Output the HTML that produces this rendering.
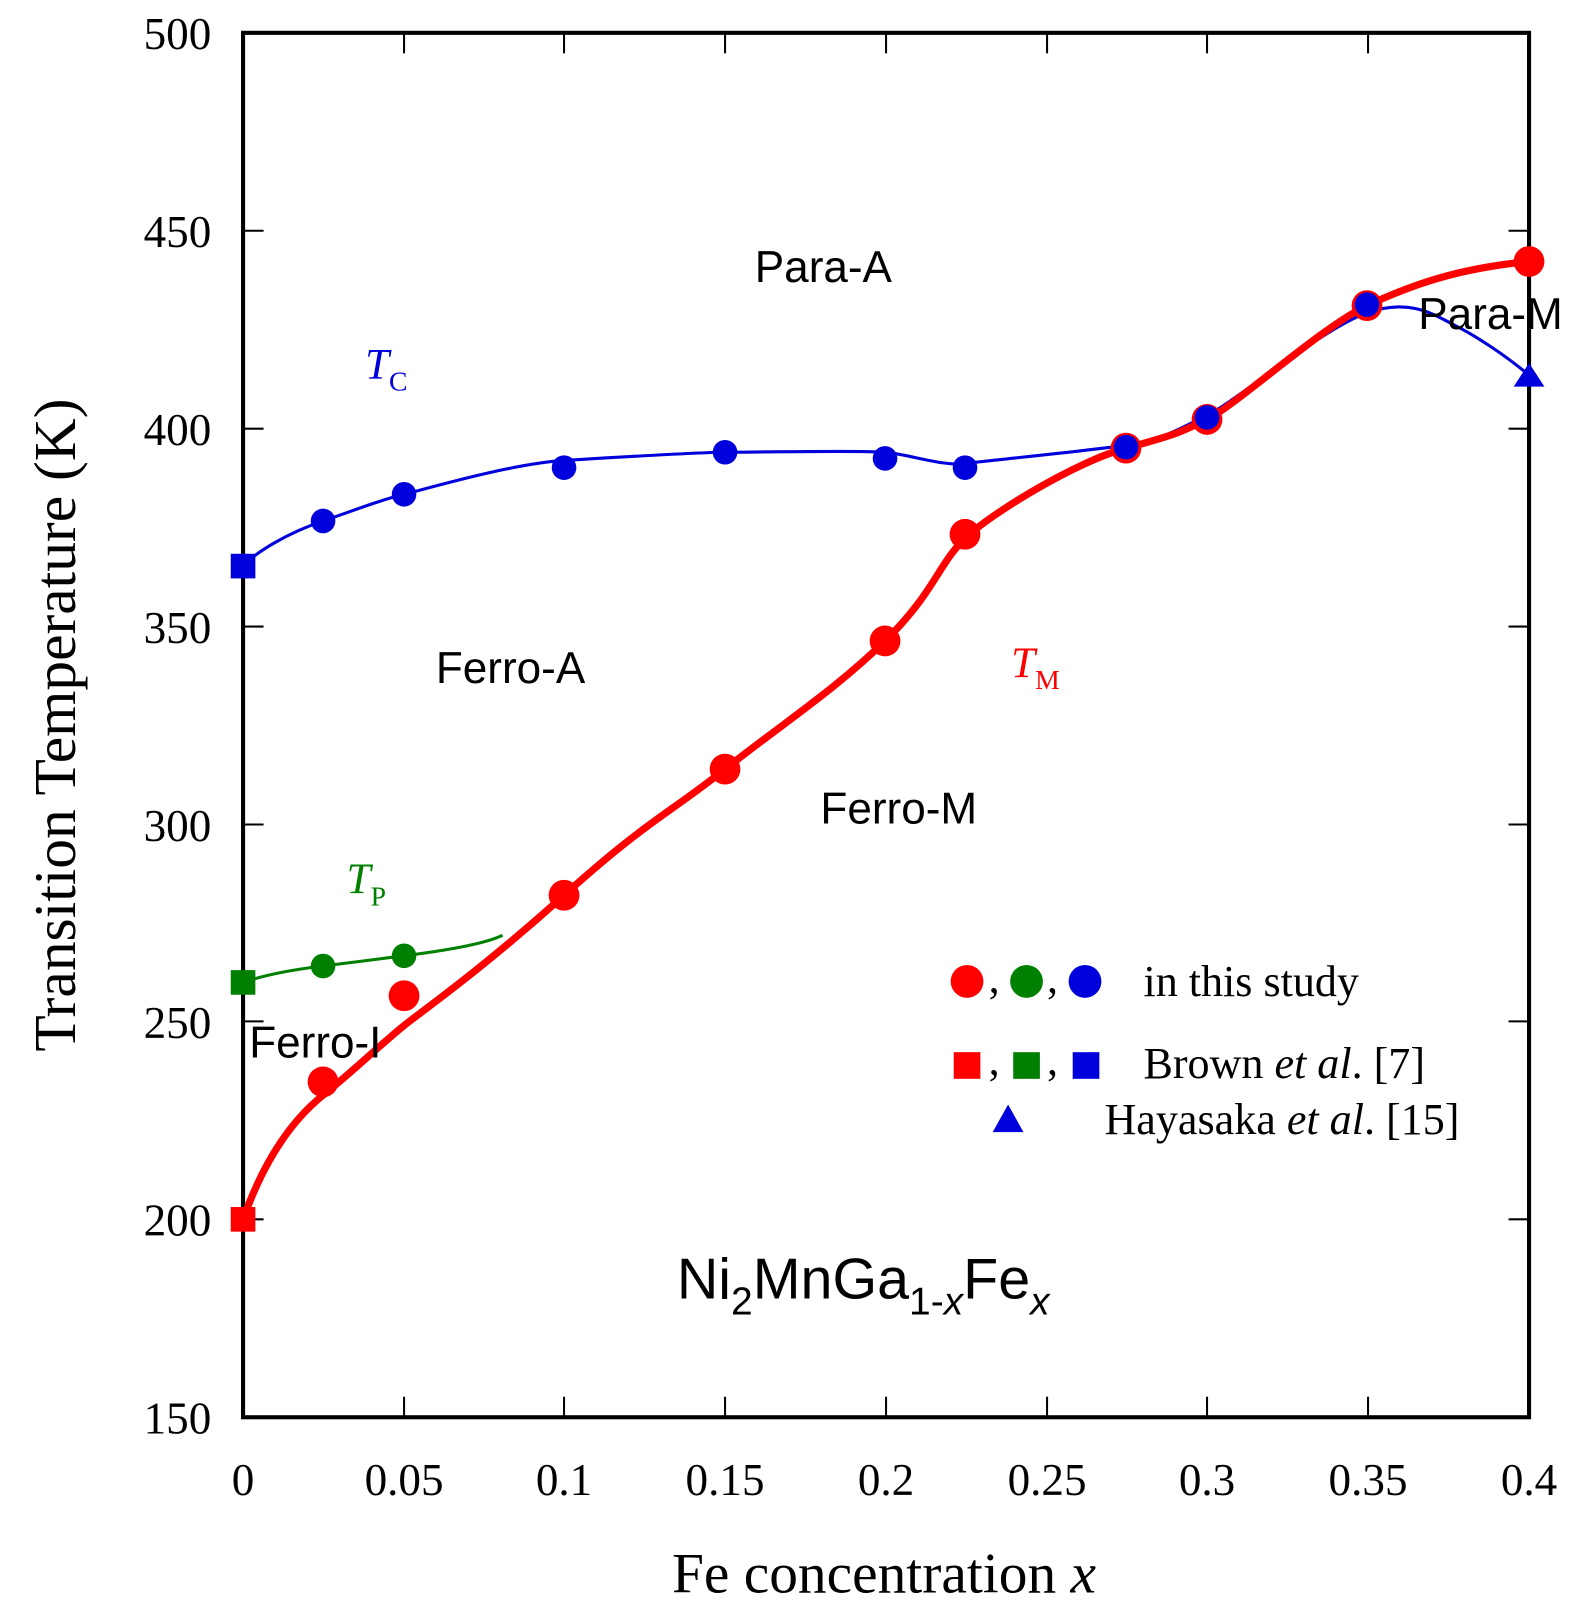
<!DOCTYPE html>
<html><head><style>body{margin:0;background:#fff}svg{display:block}</style></head><body>
<svg width="1579" height="1608" viewBox="0 0 1539.7 1568" xmlns="http://www.w3.org/2000/svg" font-family="Liberation Serif, serif">
<rect x="237" y="32" width="1254" height="1350" fill="none" stroke="#000" stroke-width="4"/>
<g stroke="#000" stroke-width="2">
<line x1="237" y1="225" x2="257" y2="225"/><line x1="1491" y1="225" x2="1471" y2="225"/>
<line x1="237" y1="418" x2="257" y2="418"/><line x1="1491" y1="418" x2="1471" y2="418"/>
<line x1="237" y1="611" x2="257" y2="611"/><line x1="1491" y1="611" x2="1471" y2="611"/>
<line x1="237" y1="804" x2="257" y2="804"/><line x1="1491" y1="804" x2="1471" y2="804"/>
<line x1="237" y1="996" x2="257" y2="996"/><line x1="1491" y1="996" x2="1471" y2="996"/>
<line x1="237" y1="1189" x2="257" y2="1189"/><line x1="1491" y1="1189" x2="1471" y2="1189"/>
<line x1="394" y1="1382" x2="394" y2="1362"/><line x1="394" y1="32" x2="394" y2="52"/>
<line x1="550" y1="1382" x2="550" y2="1362"/><line x1="550" y1="32" x2="550" y2="52"/>
<line x1="707" y1="1382" x2="707" y2="1362"/><line x1="707" y1="32" x2="707" y2="52"/>
<line x1="864" y1="1382" x2="864" y2="1362"/><line x1="864" y1="32" x2="864" y2="52"/>
<line x1="1021" y1="1382" x2="1021" y2="1362"/><line x1="1021" y1="32" x2="1021" y2="52"/>
<line x1="1177" y1="1382" x2="1177" y2="1362"/><line x1="1177" y1="32" x2="1177" y2="52"/>
<line x1="1334" y1="1382" x2="1334" y2="1362"/><line x1="1334" y1="32" x2="1334" y2="52"/>
</g>
<g font-size="44" text-anchor="end">
<text x="206" y="48">500</text><text x="206" y="241">450</text><text x="206" y="434">400</text><text x="206" y="627">350</text><text x="206" y="820">300</text><text x="206" y="1012">250</text><text x="206" y="1205">200</text><text x="206" y="1398">150</text>
</g>
<g font-size="44" text-anchor="middle">
<text x="237" y="1458">0</text><text x="394" y="1458">0.05</text><text x="550" y="1458">0.1</text><text x="707" y="1458">0.15</text><text x="864" y="1458">0.2</text><text x="1021" y="1458">0.25</text><text x="1177" y="1458">0.3</text><text x="1334" y="1458">0.35</text><text x="1491" y="1458">0.4</text>
</g>
<text x="862" y="1553" font-size="56" text-anchor="middle">Fe concentration <tspan font-style="italic">x</tspan></text>
<text transform="translate(73,707) rotate(-90)" font-size="58" text-anchor="middle">Transition Temperature (K)</text>
<path d="M237,552 C250,538 280,520 315,508 S370,488 394,482 S500,452 550,449 S680,441 707,441 S840,439 863,441 S920,455 941,452 S1060,440 1098,434 S1150,418 1177,405 S1290,320 1333,305 S1400,308 1420,318 S1470,348 1491,366" fill="none" stroke="#0000dd" stroke-width="3"/>
<path d="M237,958 C260,950 290,945 315,942 S370,935 394,932 S470,922 490,912" fill="none" stroke="#008000" stroke-width="3"/>
<path d="M237,1189 C258,1130 285,1092 315,1068 S375,1015 394,1000 S470,945 550,873 S650,795 707,750 S815,672 863,625 S915,550 941,525 S1050,450 1098,437 S1150,422 1177,409 S1290,318 1333,298 S1420,262 1491,255" fill="none" stroke="#ff0000" stroke-width="7"/>
<g fill="#ff0000">
<circle cx="315" cy="1055" r="15"/><circle cx="394" cy="971" r="15"/><circle cx="550" cy="873" r="15"/><circle cx="707" cy="750" r="15"/><circle cx="863" cy="625" r="15"/><circle cx="941" cy="521" r="15"/><circle cx="1098" cy="437" r="15"/><circle cx="1177" cy="409" r="15"/><circle cx="1333" cy="298" r="15"/><circle cx="1491" cy="255" r="15"/>
<rect x="225" y="1177" width="24" height="24"/>
</g>
<g fill="#0000dd">
<circle cx="315" cy="508" r="12"/><circle cx="394" cy="482" r="12"/><circle cx="550" cy="456" r="12"/><circle cx="707" cy="441" r="12"/><circle cx="863" cy="447" r="12"/><circle cx="941" cy="456" r="12"/><circle cx="1098" cy="436" r="12"/><circle cx="1177" cy="407" r="12"/><circle cx="1333" cy="297" r="12"/>
<rect x="225" y="540" width="24" height="24"/>
<polygon points="1491,354 1506,377 1476,377"/>
</g>
<g fill="#008000">
<circle cx="315" cy="942" r="12"/><circle cx="394" cy="932" r="12"/>
<rect x="225" y="946" width="24" height="24"/>
</g>
<g font-family="Liberation Sans, sans-serif" font-size="43">
<text x="736" y="275">Para-A</text>
<text x="1383" y="321">Para-M</text>
<text x="425" y="666">Ferro-A</text>
<text x="800" y="803">Ferro-M</text>
<text x="243" y="1031">Ferro-I</text>
<text x="660" y="1266" font-size="56">Ni<tspan font-size="38" dy="16">2</tspan><tspan dy="-16">MnGa</tspan><tspan font-size="38" dy="16">1-<tspan font-style="italic">x</tspan></tspan><tspan dy="-16">Fe</tspan><tspan font-size="38" dy="16" font-style="italic">x</tspan></text>
</g>
<text x="356" y="369" font-size="42" fill="#0000dd" font-style="italic">T<tspan font-style="normal" font-size="27" dy="12">C</tspan></text>
<text x="986" y="660" font-size="42" fill="#ff0000" font-style="italic">T<tspan font-style="normal" font-size="27" dy="12">M</tspan></text>
<text x="338" y="871" font-size="42" fill="#008000" font-style="italic">T<tspan font-style="normal" font-size="27" dy="12">P</tspan></text>
<circle cx="943" cy="957" r="16" fill="#ff0000"/><circle cx="1001" cy="957" r="16" fill="#008000"/><circle cx="1058" cy="957" r="16" fill="#0000dd"/>
<rect x="930" y="1026" width="26" height="26" fill="#ff0000"/><rect x="988" y="1026" width="26" height="26" fill="#008000"/><rect x="1046" y="1026" width="26" height="26" fill="#0000dd"/>
<polygon points="983,1077 998,1104 968,1104" fill="#0000dd"/>
<g font-size="43">
<text x="964" y="968">,</text><text x="1021" y="968">,</text>
<text x="964" y="1048">,</text><text x="1021" y="1048">,</text>
<text x="1115" y="971">in this study</text>
<text x="1115" y="1051">Brown <tspan font-style="italic">et al</tspan>. [7]</text>
<text x="1077" y="1106">Hayasaka <tspan font-style="italic">et al</tspan>. [15]</text>
</g>
</svg>
</body></html>
